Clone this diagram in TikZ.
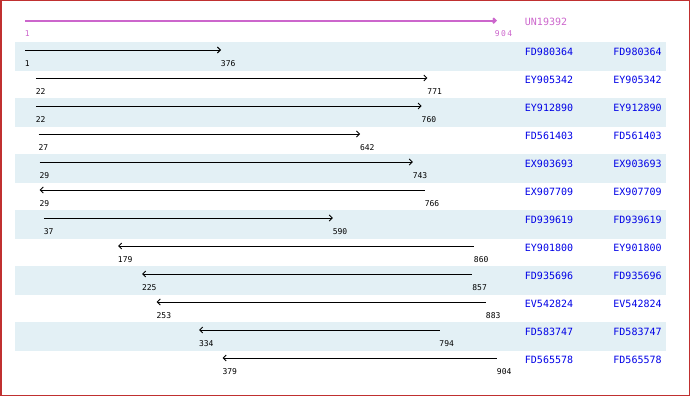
\documentclass[tikz,border=0pt]{standalone}
\usepackage{fontspec}
\setmonofont{DejaVu Sans Mono}
\usepackage{tikz}
\usetikzlibrary{arrows.meta}

\definecolor{hitblue}{RGB}{0,0,230}
\definecolor{querypink}{RGB}{204,102,204}
\definecolor{stripe}{RGB}{227,240,245}
\definecolor{frame}{RGB}{192,48,48}

\tikzset{
  tip/.style={>={Straight Barb[length=3pt,width=6pt]}},
  fwd/.style={tip, ->},
  rev/.style={tip, <-},
  coordlabel/.style={anchor=west, inner sep=0pt, font=\ttfamily\fontsize{8}{9}\selectfont},
  acc/.style={anchor=west, inner sep=0pt, text=hitblue, font=\ttfamily\fontsize{10}{11}\selectfont}
}

\begin{document}
\begin{tikzpicture}[x=1pt, y=-1pt, line width=0.9pt]
\useasboundingbox (0,0) rectangle (690,396);
%frame
\draw[frame, line width=1.5pt] (0.75,0.75) rectangle (689.25,395.25);
%query
\coordinate (qs) at (25,20.7);
\coordinate (qe) at (497,20.7);
\draw[querypink, line width=2pt, -{Straight Barb[length=2.5pt,width=5pt]}] (qs) -- (qe);
\node[coordlabel, text=querypink] (q1) at (24.5,33.5) {1};
\node[coordlabel, text=querypink] (q2) at (494.5,33.5) {9\,0\,4};
\node[acc, text=querypink] (qn) at (524.5,21.7) {UN19392};
%hits
\foreach \n/\a/\b/\way [count=\i] in {
  FD980364/1/376/fwd, EY905342/22/771/fwd, EY912890/22/760/fwd,
  FD561403/27/642/fwd, EX903693/29/743/fwd, EX907709/29/766/rev,
  FD939619/37/590/fwd, EY901800/179/860/rev, FD935696/225/857/rev,
  EV542824/253/883/rev, FD583747/334/794/rev, FD565578/379/904/rev}{
	\pgfmathsetmacro{\ya}{22+28*\i}
	\pgfmathsetmacro{\xa}{25+(\a-1)/903*472}
	\pgfmathsetmacro{\xb}{25+(\b-1)/903*472}
	\ifodd\i
		\fill[stripe] (15,\ya-8) rectangle (666,\ya+20.5);
	\fi
	\coordinate (s\i) at (\xa,\ya);
	\coordinate (e\i) at (\xb,\ya);
	\draw[style=\way] (s\i) -- (e\i);
	\node[coordlabel] (a\i) at (\xa-0.5,\ya+13.5) {\a};
	\node[coordlabel] (b\i) at (\xb-0.5,\ya+13.5) {\b};
	\node[acc] (n\i) at (524.5,\ya+2) {\n};
	\node[acc] (m\i) at (613,\ya+2) {\n};
}
\end{tikzpicture}
\end{document}
